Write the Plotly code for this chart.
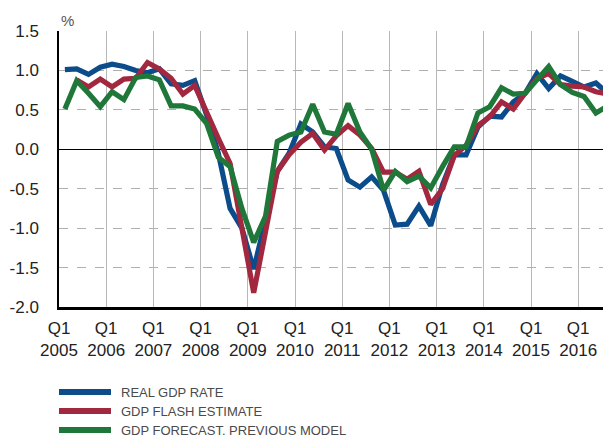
import plotly.graph_objects as go

# ---- data -------------------------------------------------------------
years = list(range(2005, 2017))
tick_labels = [f"Q1<br>{y}" for y in years]
# quarterly observations 2005Q1 .. 2016Q3, plotted at the middle of each quarter
quarters = [f"{2005 + i // 4}Q{i % 4 + 1}" for i in range(47)]

real_gdp = [1.01, 1.02, 0.95, 1.04, 1.08, 1.05, 1.00, 0.97, 1.02, 0.83, 0.81, 0.87,
            0.44, -0.05, -0.75, -1.00, -1.52, -0.90, -0.28, -0.05, 0.32, 0.22, 0.03, 0.01,
            -0.39, -0.48, -0.35, -0.52, -0.96, -0.95, -0.72, -0.97, -0.45, -0.07, -0.07, 0.28,
            0.42, 0.41, 0.60, 0.71, 0.96, 0.77, 0.93, 0.86, 0.79, 0.84, 0.71]
flash_est = [None, 0.88, 0.79, 0.89, 0.79, 0.89, 0.90, 1.10, 1.02, 0.90, 0.70, 0.81,
             0.46, 0.14, -0.18, -1.00, -1.82, -1.05, -0.28, -0.07, 0.09, 0.20, -0.01, 0.17,
             0.30, 0.18, 0.01, -0.29, -0.29, -0.38, -0.28, -0.70, -0.50, -0.08, 0.05, 0.30,
             0.41, 0.60, 0.51, 0.71, 0.90, 0.96, 0.82, 0.80, 0.79, 0.73, 0.70]
prev_model = [0.51, 0.87, 0.71, 0.54, 0.73, 0.63, 0.91, 0.93, 0.88, 0.55, 0.55, 0.51,
              0.33, -0.10, -0.22, -0.75, -1.18, -0.85, 0.10, 0.18, 0.22, 0.57, 0.22, 0.19,
              0.58, 0.22, 0.00, -0.52, -0.28, -0.41, -0.34, -0.49, -0.22, 0.03, 0.03, 0.46,
              0.54, 0.78, 0.70, 0.71, 0.88, 1.05, 0.82, 0.72, 0.67, 0.46, 0.55]

series_names = ["REAL GDP RATE", "GDP FLASH ESTIMATE", "GDP FORECAST. PREVIOUS MODEL"]
series_values = [real_gdp, flash_est, prev_model]
series_colors = ["#0C4C8A", "#A2283F", "#1F773A"]

y_ticks = [1.5, 1.0, 0.5, 0.0, -0.5, -1.0, -1.5, -2.0]

# x position: year + middle of quarter
x_pos = [int(q[:4]) + (int(q[-1]) - 0.5) / 4 for q in quarters]

# ---- figure -----------------------------------------------------------
# the page body adds an 8px offset, so the figure is 8px smaller than the window
W, H = 603, 429
ML, MT, MB, MR = 51, 23, 130, 0
fig = go.Figure()

for name, vals, col in zip(series_names, series_values, series_colors):
    fig.add_trace(go.Scatter(x=x_pos, y=vals, mode="lines", name=name,
                             line=dict(color=col, width=5.2),
                             showlegend=False, connectgaps=False))

plot_w = W - ML - MR
plot_h = H - MT - MB

# custom legend (long line keys)
leg_rows = [384, 403, 422]
for name, col, py in zip(series_names, series_colors, leg_rows):
    yp = (H - MB - py) / plot_h
    fig.add_shape(type="line", xref="paper", yref="paper",
                  x0=0, x1=52 / plot_w, y0=yp, y1=yp,
                  line=dict(color=col, width=6))
    fig.add_annotation(xref="paper", yref="paper", x=(111 - ML) / plot_w, y=yp,
                       text=name, showarrow=False, xanchor="left", yanchor="middle",
                       font=dict(family="Liberation Sans Narrow, Arial Narrow, Liberation Sans",
                                 size=13, color="#4a4a4a"))

# % label
fig.add_annotation(xref="paper", yref="paper", x=0, y=1, yshift=11, text="%",
                   showarrow=False, xanchor="left", yanchor="middle",
                   font=dict(family="Liberation Sans, Arial", size=15, color="#555555"))

fig.update_layout(
    width=W, height=H,
    margin=dict(l=ML, r=MR, t=MT, b=MB, pad=0),
    paper_bgcolor="white", plot_bgcolor="white",
    font=dict(family="Liberation Sans, Arial", size=16, color="#222222"),
    xaxis=dict(range=[2005, 2005 + (W - ML) / 47.2], tickmode="array",
               tickvals=years, ticktext=tick_labels, automargin=False,
               tickfont=dict(size=17),
               showgrid=True, gridcolor="#b8b8b8", gridwidth=1.3,
               showline=True, linecolor="black", linewidth=2.5,
               zeroline=False, ticks="", ticklabelstandoff=4),
    yaxis=dict(range=[-2.0, 1.5], tickmode="array", tickvals=y_ticks,
               ticktext=[f"{v:.1f}" for v in y_ticks], automargin=False,
               tickfont=dict(size=17),
               showgrid=True, gridcolor="#b0b0b0", gridwidth=1.2, griddash="dash",
               zeroline=True, zerolinecolor="black", zerolinewidth=1.2,
               showline=True, linecolor="black", linewidth=1.5,
               ticks="", ticklabelstandoff=15),
)

fig.write_html("out.html")
